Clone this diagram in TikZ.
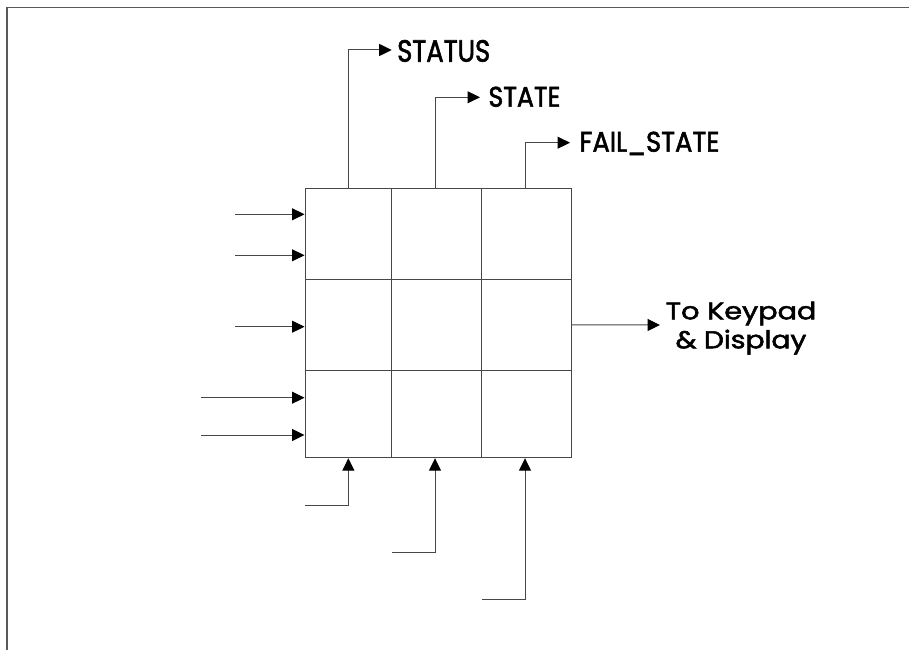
\documentclass[tikz,border=0pt]{standalone}
\usepackage{fontspec}
\setmainfont{Poppins}
\newfontfamily\lblfont{Poppins}[FakeBold=2]
\usepackage{graphicx}
\usetikzlibrary{arrows.meta}
\tikzset{
  wire/.style={draw=black!72, line width=1pt},
  arr/.style={wire, -{Triangle[length=12.5pt,width=12pt,color=black]}},
  cell/.style={draw=black!72, line width=1pt, rectangle, inner sep=0pt},
  lbl/.style={anchor=base west, inner sep=0pt, text=black, font=\lblfont},
  frame/.style={draw=black!65, line width=1.2pt}
}
\begin{document}
\begin{tikzpicture}[x=1pt,y=-1pt]
\useasboundingbox (0,0) rectangle (909,650);
\draw[frame] (7,650) -- (7,7.5) -- (909,7.5);

% grid cells
\node[cell, minimum width=86.7pt, minimum height=91pt]   (c11) at (348.35,233.5) {};
\node[cell, minimum width=90pt,   minimum height=91pt]   (c12) at (436.7,233.5) {};
\node[cell, minimum width=90pt,   minimum height=91pt]   (c13) at (526.7,233.5) {};
\node[cell, minimum width=86.7pt, minimum height=91.7pt] (c21) at (348.35,324.85) {};
\node[cell, minimum width=90pt,   minimum height=91.7pt] (c22) at (436.7,324.85) {};
\node[cell, minimum width=90pt,   minimum height=91.7pt] (c23) at (526.7,324.85) {};
\node[cell, minimum width=86.7pt, minimum height=87pt]   (c31) at (348.35,414.2) {};
\node[cell, minimum width=90pt,   minimum height=87pt]   (c32) at (436.7,414.2) {};
\node[cell, minimum width=90pt,   minimum height=87pt]   (c33) at (526.7,414.2) {};

% labels
\node[lbl] (status) at (397,61.7) {\resizebox{93pt}{21.7pt}{STATUS}};
\node[lbl] (state) at (488.3,106.7) {\resizebox{72pt}{20pt}{STATE}};
\node[lbl] (fail) at (579.3,151.7) {\resizebox{140pt}{20pt}{FAIL\_STATE}};
\node[anchor=base, inner sep=0pt, align=center, text=black, font=\lblfont\fontsize{10}{29}\selectfont] (kp) at (741,348.3)
  {\resizebox{150.7pt}{17.6pt}{To Keypad}\\\resizebox{130.7pt}{18.6pt}{\& Display}};

% output arrow ends
\coordinate (t1) at (391.7,50);
\coordinate (t2) at (480,97.3);
\coordinate (t3) at (570,142.7);
\coordinate (r1) at (660,325);

\draw[arr] (c11.north) |- (t1);
\draw[arr] ([xshift=-1.7pt]c12.north) |- (t2);
\draw[arr] ([xshift=-1.7pt]c13.north) |- (t3);
\draw[arr] (c23.east) -- (r1);

% left inputs
\coordinate (i1) at (235,214.3);
\coordinate (i2) at (235,255.3);
\coordinate (i3) at (235,326.7);
\coordinate (i4) at (201,397.7);
\coordinate (i5) at (201,435);
\draw[arr] (i1) -- (i1 -| c11.west);
\draw[arr] (i2) -- (i2 -| c11.west);
\draw[arr] (i3) -- (i3 -| c21.west);
\draw[arr] (i4) -- (i4 -| c31.west);
\draw[arr] (i5) -- (i5 -| c31.west);

% bottom inputs
\coordinate (b1) at (305,505.3);
\coordinate (b2) at (391.7,552.3);
\coordinate (b3) at (481.7,599);
\draw[arr] (b1) -| (c31.south);
\draw[arr] (b2) -| ([xshift=-1.7pt]c32.south);
\draw[arr] (b3) -| ([xshift=-1.7pt]c33.south);
\end{tikzpicture}
\end{document}
